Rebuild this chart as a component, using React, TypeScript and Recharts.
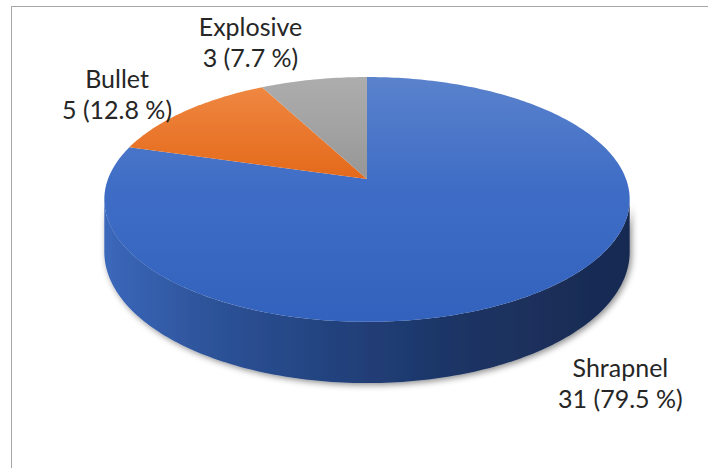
import React from 'react';
import { PieChart, Pie, Cell } from 'recharts';

const categories = ['Shrapnel', 'Bullet', 'Explosive'];
const counts = [31, 5, 3];

const topStops: string[][] = [
  ['#5a82cc', '#3f6dc6', '#3262bd'],
  ['#f08b47', '#ea7a30', '#e4691a'],
  ['#adadad', '#a3a3a3', '#969696'],
];
const stopOffsets: number[][] = [
  [0, 0.45, 1],
  [0, 0.2, 0.42],
  [0, 0.2, 0.42],
];

const data = categories.map((name, i) => ({ name, value: counts[i] }));

const TILT = 0.4595;
const PERSP = 0.167;
const DEPTH = 51;
const FONT = 'Lato, "Open Sans", sans-serif';

function proj(cx: number, cy: number, R: number, thetaDeg: number, r: number, h: number): [number, number] {
  const rad = (thetaDeg * Math.PI) / 180;
  const s = Math.sin(rad);
  const c = Math.cos(rad);
  const d = 1 + PERSP * r * c;
  return [cx + (R * r * s) / d, cy - (TILT * R * r * c) / d + h / d];
}

const silhouette = (Math.acos(-PERSP) * 180) / Math.PI; // ~99.6
const sideFrom = silhouette;
const sideTo = 360 - silhouette;

const Slice3D = (props: any) => {
  const { cx, cy, outerRadius, startAngle, endAngle, index } = props;
  const R = outerRadius;
  const t0 = 90 - startAngle;
  const t1 = 90 - endAngle;
  const n = Math.max(6, Math.ceil(Math.abs(t1 - t0)));
  let top = `M${cx},${cy}`;
  for (let i = 0; i <= n; i++) {
    const t = t0 + ((t1 - t0) * i) / n;
    const [x, y] = proj(cx, cy, R, t, 1, 0);
    top += ` L${x.toFixed(2)},${y.toFixed(2)}`;
  }
  top += ' Z';

  const a = Math.max(t0, sideFrom);
  const b = Math.min(t1, sideTo);
  let side = '';
  if (a < b) {
    const m = Math.ceil(b - a);
    for (let i = 0; i <= m; i++) {
      const t = a + ((b - a) * i) / m;
      const [x, y] = proj(cx, cy, R, t, 1, 0);
      side += `${i === 0 ? 'M' : ' L'}${x.toFixed(2)},${y.toFixed(2)}`;
    }
    for (let i = m; i >= 0; i--) {
      const t = a + ((b - a) * i) / m;
      const [x, y] = proj(cx, cy, R, t, 1, DEPTH);
      side += ` L${x.toFixed(2)},${y.toFixed(2)}`;
    }
    side += ' Z';
  }
  const yTop = cy - (TILT * R) / (1 + PERSP);
  const yBot = cy + (TILT * R) / (1 - PERSP);
  const wHalf = R / Math.sqrt(1 - PERSP * PERSP);
  const stops = topStops[index % topStops.length];
  const offs = stopOffsets[index % stopOffsets.length];
  return (
    <g>
      <defs>
        <linearGradient id={`top-grad-${index}`} gradientUnits="userSpaceOnUse" x1={0} y1={yTop} x2={0} y2={yBot}>
          {stops.map((col, k) => (
            <stop key={k} offset={offs[k]} stopColor={col} />
          ))}
        </linearGradient>
        <linearGradient id={`side-grad-${index}`} gradientUnits="userSpaceOnUse" x1={cx - wHalf} y1={0} x2={cx + wHalf} y2={0}>
          <stop offset={0} stopColor="#3b68bb" />
          <stop offset={0.2} stopColor="#2d5399" />
          <stop offset={0.45} stopColor="#22417c" />
          <stop offset={0.7} stopColor="#1c3362" />
          <stop offset={1} stopColor="#182a51" />
        </linearGradient>
        <filter id={`side-shadow-${index}`} x="-5%" y="-20%" width="112%" height="150%">
          <feDropShadow dx={2} dy={2} stdDeviation={3} floodColor="#000" floodOpacity={0.45} />
        </filter>
      </defs>
      {side && <path d={side} fill={`url(#side-grad-${index})`} filter={`url(#side-shadow-${index})`} />}
      <path d={top} fill={`url(#top-grad-${index})`} />
    </g>
  );
};

const renderLabel = (p: any) => {
  const { cx, cy, outerRadius, midAngle, percent, name, value } = p;
  const t = 90 - midAngle;
  const rad = (t * Math.PI) / 180;
  const s = Math.sin(rad);
  const c = Math.cos(rad);
  const front = c < 0;
  const [rx, ry] = proj(cx, cy, outerRadius, t, 1, front ? DEPTH : 0);
  const line1 = String(name);
  const line2 = `${value} (${(percent * 100).toFixed(1)} %)`;
  const W = Math.max(line1.length, line2.length) * 10.7;
  const lx = rx + Math.sign(s) * (W / 2 + 15);
  const ly = ry + (front ? 87 : -31) * Math.pow(Math.abs(c), 3);
  return (
    <text x={lx} y={ly} textAnchor="middle" fill="#262626" fontFamily={FONT} fontSize={25}>
      <tspan x={lx} y={ly - 15.5}>{line1}</tspan>
      <tspan x={lx} y={ly + 15.5}>{line2}</tspan>
    </text>
  );
};

export default function App() {
  return (
    <div style={{ position: 'relative', width: 708, height: 468, overflow: 'hidden', background: '#fff' }}>
      <style>{'body{margin:0;}'}</style>
      <div
        style={{
          position: 'absolute',
          left: 11,
          top: 6,
          width: 760,
          height: 520,
          border: '1px solid #a6a6a6',
          boxSizing: 'border-box',
        }}
      />
      <div style={{ position: 'absolute', left: 0, top: 0 }}>
        <PieChart width={708} height={468} margin={{ top: 0, right: 0, bottom: 0, left: 0 }}>
          <Pie
            data={data}
            dataKey="value"
            nameKey="name"
            cx={367}
            cy={179}
            outerRadius={259}
            startAngle={90}
            endAngle={-270}
            stroke="none"
            isAnimationActive={false}
            shape={Slice3D}
            label={renderLabel}
            labelLine={false}
          >
            {data.map((d, i) => (
              <Cell key={d.name} fill={topStops[i][1]} />
            ))}
          </Pie>
        </PieChart>
      </div>
    </div>
  );
}
